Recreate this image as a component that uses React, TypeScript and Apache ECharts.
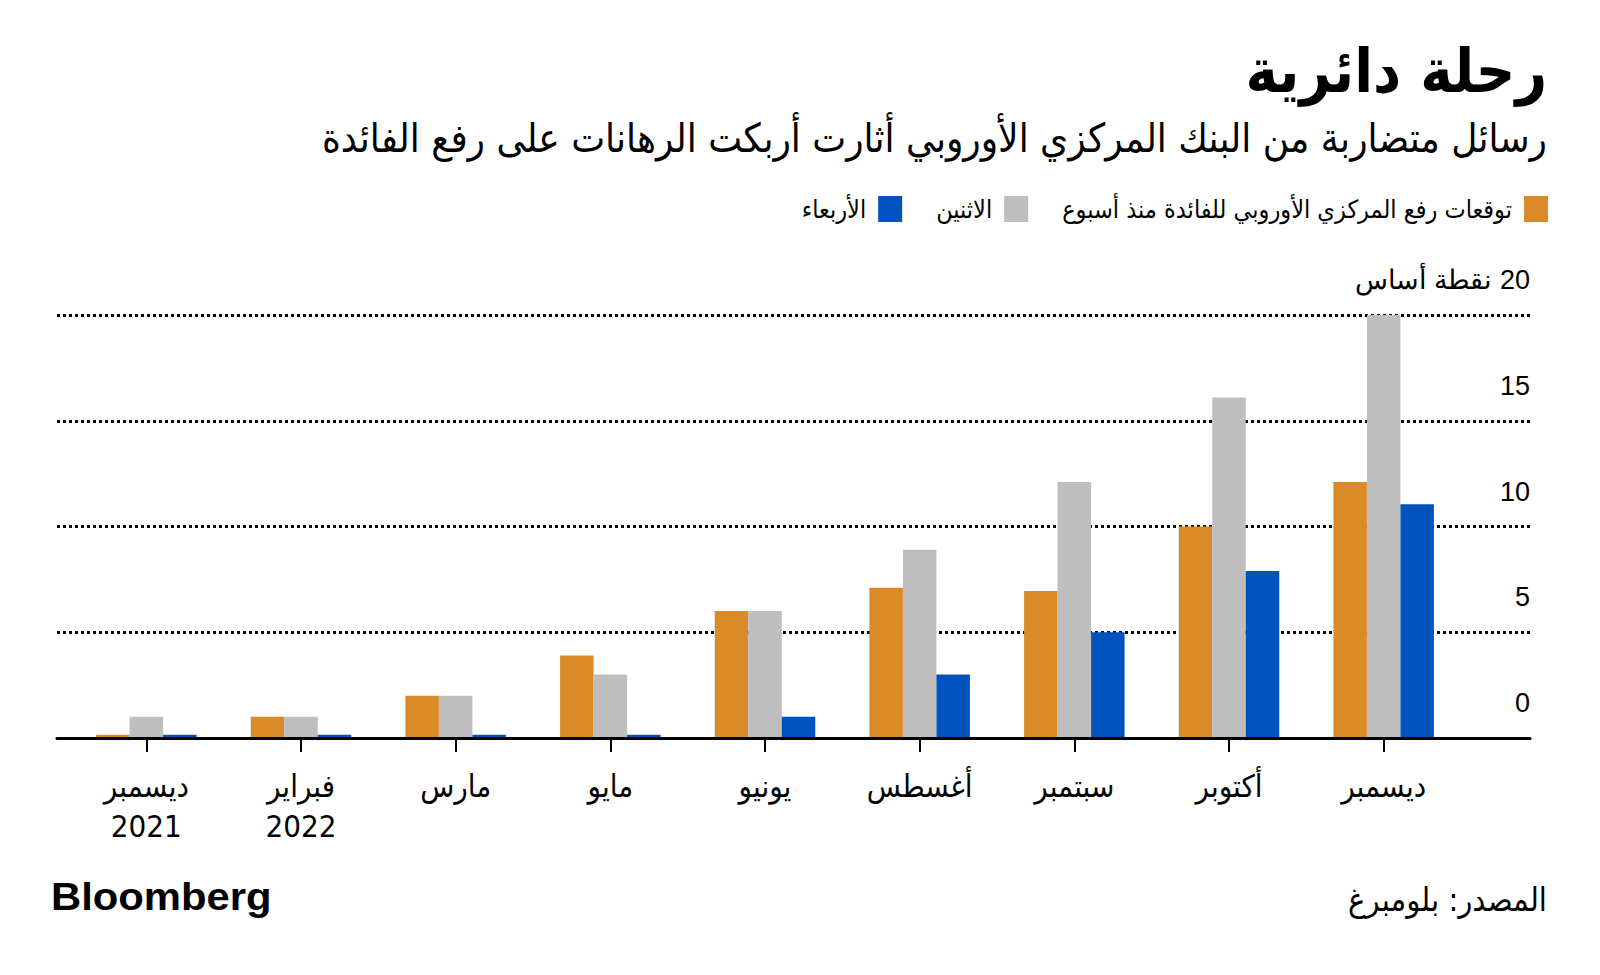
import React, { useEffect, useRef } from "react";
import * as echarts from "echarts";

const categories = ["ديسمبر\n2021", "فبراير\n2022", "مارس", "مايو", "يونيو", "أغسطس", "سبتمبر", "أكتوبر", "ديسمبر"];
const seriesNames = ["توقعات رفع المركزي الأوروبي للفائدة منذ أسبوع", "الاثنين", "الأربعاء"];
const weekAgo = [0.15, 1, 2, 3.9, 6, 7.1, 6.95, 10, 12.1];
const monday = [1, 1, 2, 3, 6, 8.9, 12.1, 16.1, 20];
const wednesday = [0.15, 0.15, 0.15, 0.15, 1, 3, 5, 7.9, 11.05];
const yTicks = [0, 5, 10, 15, 20];
const yUnit = "نقطة أساس";

const title = "رحلة دائرية";
const subtitle = "رسائل متضاربة من البنك المركزي الأوروبي أثارت أربكت الرهانات على رفع الفائدة";
const source = "المصدر: بلومبرغ";

const COLORS = ["#DA8A27", "#BEBEBE", "#0053BC"];
const AR_FONT = '"DejaVu Sans Condensed", "DejaVu Sans", sans-serif';
const NUM_FONT = '"Liberation Sans Narrow", "Liberation Sans", Arial, sans-serif';

export default function App() {
  const ref = useRef<HTMLDivElement>(null);
  useEffect(() => {
    if (!ref.current) return;
    const chart = echarts.init(ref.current, null, { renderer: "svg" });
    const seriesData = [weekAgo, monday, wednesday];
    const option: any = {
      animation: false,
      backgroundColor: "#ffffff",
      graphic: [
        {
          type: "text",
          x: 1547,
          y: 70,
          style: { text: title, textAlign: "right", textVerticalAlign: "middle", font: `bold 61px ${AR_FONT}`, fill: "#000" },
        },
        {
          type: "text",
          x: 1547,
          y: 138,
          style: { text: subtitle, textAlign: "right", textVerticalAlign: "middle", font: `40px ${AR_FONT}`, fill: "#000" },
        },
        {
          type: "text",
          x: 1547,
          y: 900,
          style: { text: source, textAlign: "right", textVerticalAlign: "middle", font: `32.5px ${AR_FONT}`, fill: "#000" },
        },
        {
          type: "text",
          x: 51,
          y: 897,
          scaleX: 1.1,
          style: { text: "Bloomberg", textAlign: "left", textVerticalAlign: "middle", font: `bold 38px "Liberation Sans", Arial, sans-serif`, fill: "#000" },
        },
      ],
      legend: {
        data: seriesNames.slice().reverse(),
        right: 47,
        top: 191,
        align: "right",
        icon: "rect",
        itemWidth: 24,
        itemHeight: 26,
        itemGap: 34,
        textStyle: { fontSize: 25, fontFamily: AR_FONT, color: "#000", padding: [0, 7, 0, 0] },
        selectedMode: false,
      },
      grid: [
        { left: 69, right: 139, top: 315, bottom: 237 },
        { left: 57, right: 70, top: 315, bottom: 237 },
      ],
      xAxis: [
        {
          type: "category",
          gridIndex: 0,
          data: categories,
          axisLine: { show: false },
          axisTick: { show: true, alignWithLabel: true, length: 14, lineStyle: { color: "#000", width: 2 } },
          axisLabel: { fontSize: 31, lineHeight: 40, margin: 28, color: "#000", fontFamily: AR_FONT, interval: 0 },
        },
        {
          type: "category",
          gridIndex: 1,
          data: [""],
          z: 5,
          axisLine: { show: true, lineStyle: { color: "#000", width: 3 } },
          axisTick: { show: false },
          axisLabel: { show: false },
        },
      ],
      yAxis: [
        {
          type: "value",
          gridIndex: 0,
          min: 0,
          max: 20,
          interval: 5,
          show: false,
          splitLine: { show: false },
        },
        {
          type: "value",
          gridIndex: 1,
          position: "right",
          min: yTicks[0],
          max: yTicks[yTicks.length - 1],
          interval: 5,
          axisLine: { show: false },
          axisTick: { show: false },
          splitLine: { show: true, lineStyle: { color: "#000", width: 3, type: [3, 3] } },
          axisLabel: {
            inside: true,
            margin: 0,
            verticalAlign: "bottom",
            lineHeight: 30,
            padding: [0, 0, 20, 0],
            fontSize: 27,
            color: "#000",
            fontFamily: NUM_FONT,
            formatter: (v: number) => (v === yTicks[yTicks.length - 1] ? `\u200F${v} ${yUnit}` : `${v}`),
          },
        },
      ],
      series: seriesNames.map((name, i) => ({
        name,
        type: "bar",
        xAxisIndex: 0,
        yAxisIndex: 0,
        data: seriesData[i],
        barWidth: 33.5,
        barGap: "0%",
        itemStyle: { color: COLORS[i] },
      })),
    };
    chart.setOption(option);
    return () => chart.dispose();
  }, []);
  return (
    <div
      ref={ref}
      style={{ position: "fixed", left: 0, top: 0, width: 1600, height: 975, background: "#fff" }}
    />
  );
}
